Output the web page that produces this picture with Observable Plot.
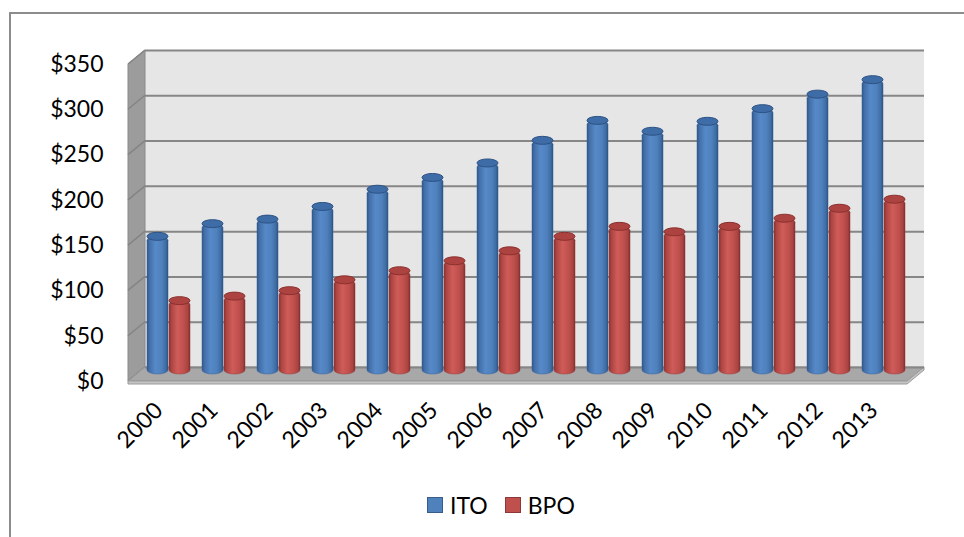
<!DOCTYPE html>
<html>
<head>
<meta charset="utf-8">
<script src="https://cdn.jsdelivr.net/npm/d3@7"></script>
<script src="https://cdn.jsdelivr.net/npm/@observablehq/plot@0.6"></script>
<style>
  html, body { margin: 0; padding: 0; background: #fff; }
  #wrap { position: relative; width: 964px; height: 537px; overflow: hidden; font-family: Lato, "Open Sans", sans-serif; }
  #frame { position: absolute; left: 9px; top: 12px; width: 960px; height: 530px; border-left: 2px solid #8c8c8c; border-top: 2px solid #8c8c8c; box-sizing: border-box; }
  #chart { position: absolute; left: 0; top: 0; }
  #legend { position: absolute; left: 427px; top: 492px; height: 26px; display: flex; align-items: center; font-size: 23px; color: #000; }
  .item { display: flex; align-items: center; margin-right: 17px; }
  .sw { width: 16px; height: 16px; margin-right: 7px; box-sizing: border-box; }
</style>
</head>
<body>
<div id="wrap">
  <div id="frame"></div>
  <div id="chart"></div>
  <div id="legend"></div>
</div>
<script>
const years = ["2000","2001","2002","2003","2004","2005","2006","2007","2008","2009","2010","2011","2012","2013"];
const itoValues = [152,166,171,185,204,217,233,258,280,268,279,293,309,325];
const bpoValues = [81,86,92,104,114,125,136,152,163,157,163,172,183,193];
const seriesNames = ["ITO","BPO"];
const seriesColors = ["#4f81bd","#c0504d"];
const yTicks = [0,50,100,150,200,250,300,350];

const itoData = years.map((y,i) => ({year: y, series: "ITO", value: itoValues[i]}));
const bpoData = years.map((y,i) => ({year: y, series: "BPO", value: bpoValues[i]}));

// depth offsets (front / back planes of the 3D box relative to the bar plane)
const FDX = -9, FDY = 7, BDX = 8, BDY = -7;

function defsMark() {
  const g = d3.create("svg:g");
  const defs = g.append("defs");
  const mk = (id, stops) => {
    const lg = defs.append("linearGradient").attr("id", id).attr("x1","0").attr("x2","1").attr("y1","0").attr("y2","0");
    stops.forEach(([o,c]) => lg.append("stop").attr("offset", o).attr("stop-color", c));
  };
  mk("gBlue", [["0","#2f5689"],["0.12","#436fa8"],["0.4","#5689c8"],["0.7","#4f81bd"],["0.9","#3f6da4"],["1","#2c4f7e"]]);
  mk("gRed", [["0","#8a302e"],["0.12","#ad4542"],["0.4","#cf5c58"],["0.7","#c0504d"],["0.9","#a74441"],["1","#7f2c2a"]]);
  return g.node();
}

function wallsMark(index, scales, values, dims) {
  const {width, height, marginLeft, marginRight, marginTop, marginBottom} = dims;
  const x0 = marginLeft, x1 = width - marginRight, yb = height - marginBottom, yt = marginTop;
  const g = d3.create("svg:g");
  // back wall
  g.append("rect").attr("x", x0 + BDX).attr("y", yt + BDY).attr("width", x1 - x0).attr("height", yb - yt)
    .attr("fill", "#e6e6e6");
  // side wall
  g.append("path").attr("d", `M${x0+FDX},${yb+FDY}L${x0+FDX},${yt+FDY}L${x0+BDX},${yt+BDY}L${x0+BDX},${yb+BDY}Z`)
    .attr("fill", "#9c9c9c").attr("stroke", "#8a8a8a").attr("stroke-width", 1);
  // side wall grid diagonals
  yTicks.forEach(t => {
    const y = scales.y(t);
    g.append("line").attr("x1", x0+FDX).attr("y1", y+FDY).attr("x2", x0+BDX).attr("y2", y+BDY)
      .attr("stroke", "#848484").attr("stroke-width", 1.5);
  });
  // floor
  g.append("path").attr("d", `M${x0+FDX},${yb+FDY}L${x1+FDX},${yb+FDY}L${x1+BDX},${yb+BDY}L${x0+BDX},${yb+BDY}Z`)
    .attr("fill", "#a8a8a8").attr("stroke", "#959595").attr("stroke-width", 1);
  g.append("path").attr("d", `M${x0+FDX},${yb+FDY}L${x1+FDX},${yb+FDY}L${x1+BDX},${yb+BDY}L${x1+BDX},${yb+BDY+3}L${x1+FDX},${yb+FDY+3}L${x0+FDX},${yb+FDY+3}Z`)
    .attr("fill", "#c4c4c4").attr("stroke", "#9a9a9a").attr("stroke-width", 1);
  return g.node();
}

const W = 964, H = 490;
const HALF = 22;

const chart = Plot.plot({
  width: W,
  height: H,
  marginLeft: 137,
  marginRight: 48,
  marginTop: 57,
  marginBottom: H - 374,
  style: {fontFamily: "Lato, 'Open Sans', sans-serif", fontSize: "23px", color: "#000", background: "transparent", overflow: "visible"},
  x: {type: "band", domain: years, paddingInner: 0.21, paddingOuter: 0.1},
  y: {domain: [0, 350]},
  marks: [
    defsMark,
    wallsMark,
    Plot.ruleY(yTicks, {y: d => d, dx: BDX, dy: BDY, stroke: "#868686", strokeWidth: 2, strokeOpacity: 1}),
    Plot.barY(itoData, {x: "year", y1: 0, y2: "value", insetRight: HALF, rx: 11, ry: 4, fill: "url(#gBlue)", stroke: "#36609a", strokeWidth: 0.5}),
    Plot.barY(itoData, {x: "year", y1: "value", y2: "value", insetRight: HALF, insetTop: -4, insetBottom: -4, rx: 11, ry: 4, fill: "#3e6ca6", stroke: "#2d5285", strokeWidth: 1}),
    Plot.barY(bpoData, {x: "year", y1: 0, y2: "value", insetLeft: HALF, rx: 11, ry: 4, fill: "url(#gRed)", stroke: "#96393a", strokeWidth: 0.5}),
    Plot.barY(bpoData, {x: "year", y1: "value", y2: "value", insetLeft: HALF, insetTop: -4, insetBottom: -4, rx: 11, ry: 4, fill: "#ad4340", stroke: "#8a302e", strokeWidth: 1}),
    Plot.axisY(yTicks, {tickFormat: d => "$" + d, tickSize: 0, tickPadding: 34, dy: FDY, label: null, fontSize: 23}),
    Plot.axisX({tickRotate: -45, tickSize: 0, tickPadding: 32, dx: -10, label: null, fontSize: 23})
  ]
});
document.getElementById("chart").appendChild(chart);

const legend = document.getElementById("legend");
seriesNames.forEach((name, i) => {
  const item = document.createElement("div");
  item.className = "item";
  const sw = document.createElement("div");
  sw.className = "sw";
  sw.style.background = seriesColors[i];
  sw.style.border = "1px solid " + (i === 0 ? "#385d8a" : "#8c3836");
  const t = document.createElement("span");
  t.textContent = name;
  item.appendChild(sw);
  item.appendChild(t);
  legend.appendChild(item);
});
</script>
</body>
</html>
